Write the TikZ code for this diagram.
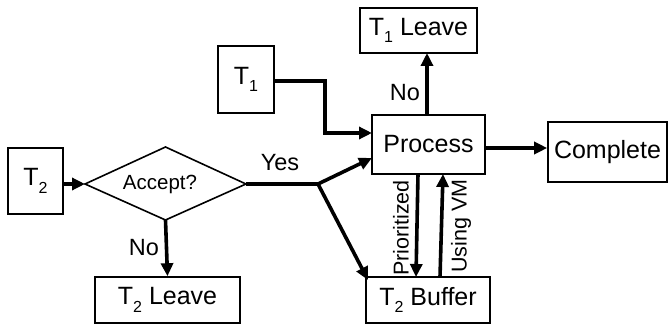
\documentclass[tikz,border=0pt]{standalone}
\usepackage{fontspec}
\setmainfont{Liberation Sans}
\usetikzlibrary{arrows.meta}
\newcommand\tsub[1]{\raisebox{-0.3em}{\fontsize{16}{16}\selectfont #1}}
\begin{document}
\begin{tikzpicture}[x=1pt,y=-1pt,
  box/.style={draw,line width=1.6pt,inner sep=0pt,font=\fontsize{25}{29}\selectfont},
  flow/.style={line width=3.6pt,-{Triangle[length=13pt,width=12pt]}},
  plain/.style={line width=3.6pt},
  lbl/.style={inner sep=0pt,font=\fontsize{23.5}{27}\selectfont},
  vlbl/.style={inner sep=0pt,rotate=90,font=\fontsize{21.5}{25}\selectfont}]
\useasboundingbox (0,0) rectangle (670,326);
% boxes
\node[box,minimum width=55pt,minimum height=66pt] (t2) at (35.5,181) {T\tsub{2}};
\node[box,minimum width=56pt,minimum height=67pt] (t1) at (246,79.5) {T\tsub{1}};
\node[box,minimum width=117pt,minimum height=45pt] (t1l) at (418.5,30.5) {T\tsub{1} Leave};
\node[box,minimum width=113pt,minimum height=59pt] (proc) at (428.5,144.5) {Process};
\node[box,minimum width=119pt,minimum height=60pt] (comp) at (607.5,152) {Complete};
\node[box,minimum width=124pt,minimum height=46pt] (buf) at (428,300) {T\tsub{2} Buffer};
\node[box,minimum width=145pt,minimum height=46pt] (t2l) at (167.5,300) {T\tsub{2} Leave};
% diamond
\coordinate (dl) at (85,184);
\coordinate (dr) at (246,184);
\coordinate (dt) at (165.5,147);
\coordinate (db) at (165.5,220);
\draw[line width=1.6pt,line join=miter] (dl) -- (dt) -- (dr) -- (db) -- cycle;
\node[inner sep=0pt,font=\fontsize{20.5}{24}\selectfont] (acc) at (160,184) {Accept?};
% junction
\coordinate (j) at (318,184);
\coordinate (pin1) at (372,133);
\coordinate (pin2) at (372,158);
\coordinate (bc) at (368,280);
\coordinate (pb1) at (418,174);
\coordinate (bt1) at (416,277);
\coordinate (bt2) at (440,277);
\coordinate (pb2) at (443,174);
% connectors
\draw[flow] (t2.east |- dl) -- (dl);
\draw[plain] (dr) -- (j);
\draw[flow] (j) -- (pin2);
\draw[flow] (j) -- (bc);
\draw[flow] (db) -- (t2l.north);
\draw[flow] (t1.east |- 0,81) -| (325,133) -- (pin1);
\draw[flow] (427,115) -- (427,53);
\draw[flow] (proc.east |- 0,148) -- (comp.west |- 0,148);
\draw[flow] (pb1) -- (bt1);
\draw[flow] (bt2) -- (pb2);
% labels
\node[lbl] (yes) at (280,163) {Yes};
\node[lbl] (no1) at (405,93) {No};
\node[lbl] (no2) at (144,248) {No};
\node[vlbl] (prio) at (401,228) {Prioritized};
\node[vlbl] (vm) at (461,226) {Using VM};
\end{tikzpicture}
\end{document}
